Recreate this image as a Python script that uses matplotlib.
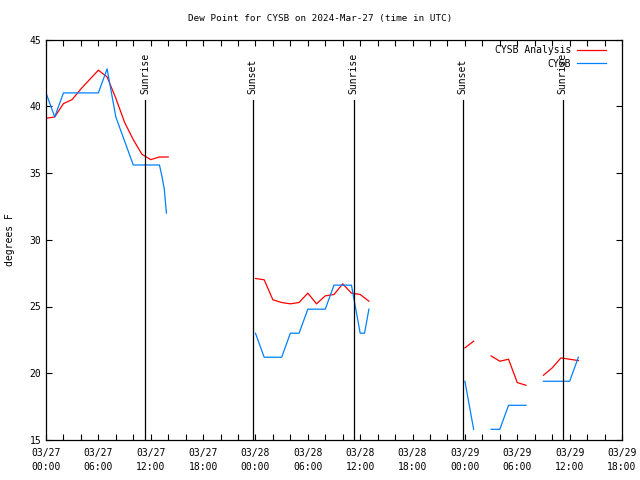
import numpy as np
import matplotlib
matplotlib.use('Agg')
import matplotlib.pyplot as plt
from matplotlib.ticker import MultipleLocator, FuncFormatter
import datetime as dt

# hours after 2024-03-27 00:00 UTC (nan = gap)
nan = np.nan
anal_hours = [0, 1, 2, 3, 4, 5, 6, 7, 8, 9, 10, 11, 12, 13, 14, nan,
              24, 25, 26, 27, 28, 29, 30, 31, 32, 33, 34, 35, 36, 37, nan,
              48, 49, nan, 51, 52, 53, 54, 55, nan, 57, 58, 59, 60, 61]
anal_vals = [39.1, 39.2, 40.2, 40.5, 41.3, 42.0, 42.7, 42.2, 40.6, 38.8, 37.5, 36.4, 36.0, 36.2, 36.2, nan,
             27.1, 27.0, 25.5, 25.3, 25.2, 25.3, 26.0, 25.2, 25.8, 25.9, 26.7, 26.0, 25.9, 25.4, nan,
             21.9, 22.4, nan, 21.3, 20.9, 21.05, 19.3, 19.1, nan, 19.85, 20.4, 21.15, 21.05, 20.95]

obs_hours = [0, 1, 2, 3, 4, 5, 6, 7, 8, 9, 10, 11, 12, 13, 13.3, 13.55, 13.8, nan,
             24, 25, 26, 27, 28, 29, 30, 31, 32, 33, 34, 35, 36, 36.5, 37, nan,
             48, 49, nan, 51, 52, 53, 54, 55, nan, 57, 58, 59, 60, 61]
obs_vals = [41.0, 39.2, 41.0, 41.0, 41.0, 41.0, 41.0, 42.8, 39.2, 37.4, 35.6, 35.6, 35.6, 35.6, 34.7, 33.8, 32.0, nan,
            23.0, 21.2, 21.2, 21.2, 23.0, 23.0, 24.8, 24.8, 24.8, 26.6, 26.6, 26.6, 23.0, 23.0, 24.8, nan,
            19.4, 15.8, nan, 15.8, 15.8, 17.6, 17.6, 17.6, nan, 19.4, 19.4, 19.4, 19.4, 21.2]

sun_hours = [11.35, 23.7, 35.25, 47.75, 59.2]
sun_labels = ['Sunrise', 'Sunset', 'Sunrise', 'Sunset', 'Sunrise']

start = dt.datetime(2024, 3, 27)

plt.rcParams['font.family'] = 'DejaVu Sans Mono'
fs = 6.7

fig = plt.figure(figsize=(6.4, 4.8), dpi=100)
ax = fig.add_axes([46/640, 40/480, 576/640, 400.5/480])

ax.plot(anal_hours, anal_vals, color='#ff0000', lw=0.9, label='CYSB Analysis')
ax.plot(obs_hours, obs_vals, color='#0080ff', lw=0.9, label='CYSB')

for h, lab in zip(sun_hours, sun_labels):
    ax.plot([h, h], [15, 40.45], color='black', lw=0.9)
    ax.text(h, 40.95, lab, rotation=90, ha='center', va='bottom', fontsize=fs + 0.3)

ax.set_xlim(0, 66)
ax.set_ylim(15, 45)
ax.xaxis.set_major_locator(MultipleLocator(6))
ax.xaxis.set_minor_locator(MultipleLocator(2))
ax.yaxis.set_major_locator(MultipleLocator(5))
ax.xaxis.set_major_formatter(FuncFormatter(
    lambda v, p: (start + dt.timedelta(hours=v)).strftime('%m/%d\n%H:%M')))
ax.tick_params(which='both', direction='in', top=True, right=True,
               length=4, width=0.8, labelsize=fs + 0.3)
ax.tick_params(axis='x', which='major', pad=6)
for t in ax.get_xticklabels():
    t.set_linespacing(1.45)
for s in ax.spines.values():
    s.set_linewidth(0.9)

fig.text(0.5, 1 - 19/480, 'Dew Point for CYSB on 2024-Mar-27 (time in UTC)',
         ha='center', va='center', fontsize=fs)
ax.set_ylabel('degrees F', fontsize=fs + 0.3, labelpad=10)
ax.legend(loc='upper right', frameon=False, markerfirst=False, handlelength=3.0,
          fontsize=fs + 0.3, bbox_to_anchor=(1 - 10/576, 1), borderaxespad=0.2,
          labelspacing=0.35, handletextpad=0.6)

fig.savefig('out.png', dpi=100)
